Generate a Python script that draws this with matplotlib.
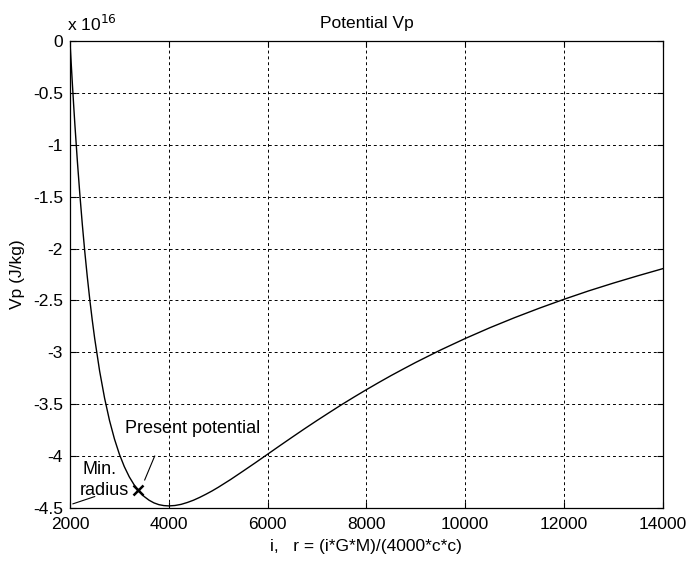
import numpy as np
import matplotlib
matplotlib.use("Agg")
import matplotlib.pyplot as plt

plt.rcParams['font.family'] = ['Liberation Sans', 'DejaVu Sans']
plt.rcParams['axes.unicode_minus'] = False

# curve, Vp in units of 1e16 J/kg
i_vals = [2000, 2002, 2005, 2010, 2025, 2050, 2075, 2100, 2150, 2200, 2250,
          2300, 2350, 2400, 2450, 2500, 2600, 2700, 2800, 2900, 3000, 3100,
          3200, 3300, 3400, 3500, 3600, 3700, 3800, 3900, 4000, 4125, 4250,
          4375, 4500, 4625, 4750, 4875, 5000, 5250, 5500, 5750, 6000, 6250,
          6500, 6750, 7000, 7250, 7500, 7750, 8000, 8250, 8500, 8750, 9000,
          9500, 10000, 10500, 11000, 11500, 12000, 12500, 13000, 13500, 14000]
vp_vals = [0.0, -0.018, -0.045, -0.089, -0.219, -0.426, -0.624, -0.813, -1.163, -1.481, -1.770,
           -2.033, -2.271, -2.489, -2.687, -2.867, -3.181, -3.441, -3.657, -3.835, -3.982, -4.102,
           -4.200, -4.278, -4.341, -4.389, -4.425, -4.451, -4.468, -4.477, -4.480, -4.476, -4.465,
           -4.447, -4.425, -4.398, -4.368, -4.336, -4.301, -4.226, -4.146, -4.065, -3.982, -3.899,
           -3.817, -3.736, -3.657, -3.580, -3.504, -3.431, -3.360, -3.291, -3.224, -3.160, -3.097,
           -2.978, -2.867, -2.763, -2.666, -2.575, -2.489, -2.408, -2.333, -2.262, -2.194]

present_i, present_vp = 3380, -4.33
x_ticks = [2000, 4000, 6000, 8000, 10000, 12000, 14000]
y_ticks = [0, -0.5, -1, -1.5, -2, -2.5, -3, -3.5, -4, -4.5]
y_labels = ['0', '-0.5', '-1', '-1.5', '-2', '-2.5', '-3', '-3.5', '-4', '-4.5']

fig = plt.figure(figsize=(6.95, 5.61), dpi=100)
ax = fig.add_axes([0.1007, 0.0945, 0.853, 0.8325])

ax.plot(i_vals, vp_vals, color='black', linewidth=1.0)
ax.plot([present_i], [present_vp], marker='x', color='black', markersize=7, mew=1.8)

ax.set_xlim(2000, 14000)
ax.set_ylim(-4.5, 0)
ax.set_xticks(x_ticks)
ax.set_yticks(y_ticks)
ax.set_yticklabels(y_labels)
ax.tick_params(direction='in', top=True, right=True, labelsize=12.5, length=4)
ax.tick_params(axis='x', pad=6.5)
ax.tick_params(axis='y', pad=5)
ax.grid(True, color='black', linestyle=(0, (3, 3)), linewidth=0.7)
for s in ax.spines.values():
    s.set_linewidth(0.9)

ax.set_title('Potential Vp', fontsize=12.5, pad=9)
ax.set_xlabel('i,   r = (i*G*M)/(4000*c*c)', fontsize=12.5, labelpad=5)
ax.set_ylabel('Vp (J/kg)', fontsize=12.5, labelpad=6)
ax.text(-0.005, 1.015, 'x 10$^{16}$', transform=ax.transAxes, fontsize=12.5,
        ha='left', va='bottom')

# annotations
ax.text(3110, -3.73, 'Present potential', fontsize=13, ha='left', va='center')
ax.plot([3714, 3512], [-4.0, -4.23], color='black', linewidth=0.8)
ax.text(2260, -4.13, 'Min.', fontsize=13, ha='left', va='center')
ax.text(2200, -4.33, 'radius', fontsize=13, ha='left', va='center')
ax.plot([2060, 2500], [-4.46, -4.39], color='black', linewidth=0.8)

fig.savefig('out.png', dpi=100)
